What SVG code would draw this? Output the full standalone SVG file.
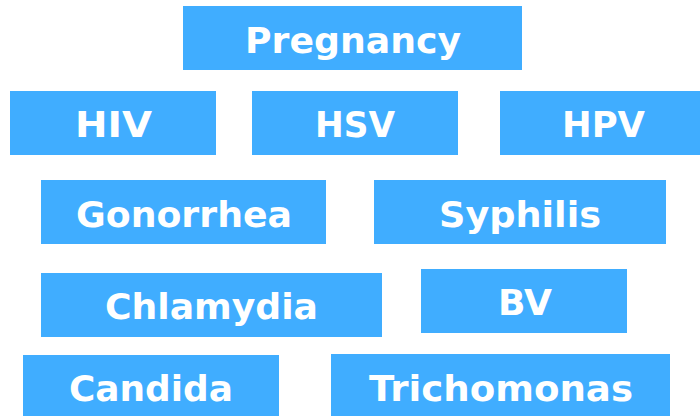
<svg xmlns="http://www.w3.org/2000/svg" width="700" height="416" viewBox="0 0 700 416">
<style>
.b{fill:#40adff}
.t{fill:#fff;font-family:"DejaVu Sans",Verdana,sans-serif;font-weight:bold;font-size:36px;text-anchor:middle}
</style>
<rect width="700" height="416" fill="#fff"/>
<g id="connectors"></g>
<g id="pregnancy"><rect class="b" x="183" y="6" width="339" height="64"/><text class="t" x="353" y="53" textLength="216" lengthAdjust="spacingAndGlyphs">Pregnancy</text></g>
<g id="hiv"><rect class="b" x="10" y="91" width="206" height="64"/><text class="t" x="113.5" y="136.5" textLength="77" lengthAdjust="spacingAndGlyphs">HIV</text></g>
<g id="hsv"><rect class="b" x="252" y="91" width="206" height="64"/><text class="t" x="355" y="136.5" textLength="80" lengthAdjust="spacingAndGlyphs">HSV</text></g>
<g id="hpv"><rect class="b" x="500" y="91" width="206" height="64"/><text class="t" x="603.5" y="136.5" textLength="83" lengthAdjust="spacingAndGlyphs">HPV</text></g>
<g id="gonorrhea"><rect class="b" x="41" y="180" width="285" height="64"/><text class="t" x="184" y="226.5" textLength="216" lengthAdjust="spacingAndGlyphs">Gonorrhea</text></g>
<g id="syphilis"><rect class="b" x="374" y="180" width="292" height="64"/><text class="t" x="520" y="226.5" textLength="162" lengthAdjust="spacingAndGlyphs">Syphilis</text></g>
<g id="chlamydia"><rect class="b" x="41" y="273" width="341" height="64"/><text class="t" x="211.5" y="319" textLength="213" lengthAdjust="spacingAndGlyphs">Chlamydia</text></g>
<g id="bv"><rect class="b" x="421" y="269" width="206" height="64"/><text class="t" x="525" y="314.5" textLength="54" lengthAdjust="spacingAndGlyphs">BV</text></g>
<g id="candida"><rect class="b" x="23" y="355" width="256" height="64"/><text class="t" x="151" y="400.5" textLength="164" lengthAdjust="spacingAndGlyphs">Candida</text></g>
<g id="trichomonas"><rect class="b" x="331" y="354" width="339" height="64"/><text class="t" x="501" y="400.5" textLength="264" lengthAdjust="spacingAndGlyphs">Trichomonas</text></g>
</svg>
